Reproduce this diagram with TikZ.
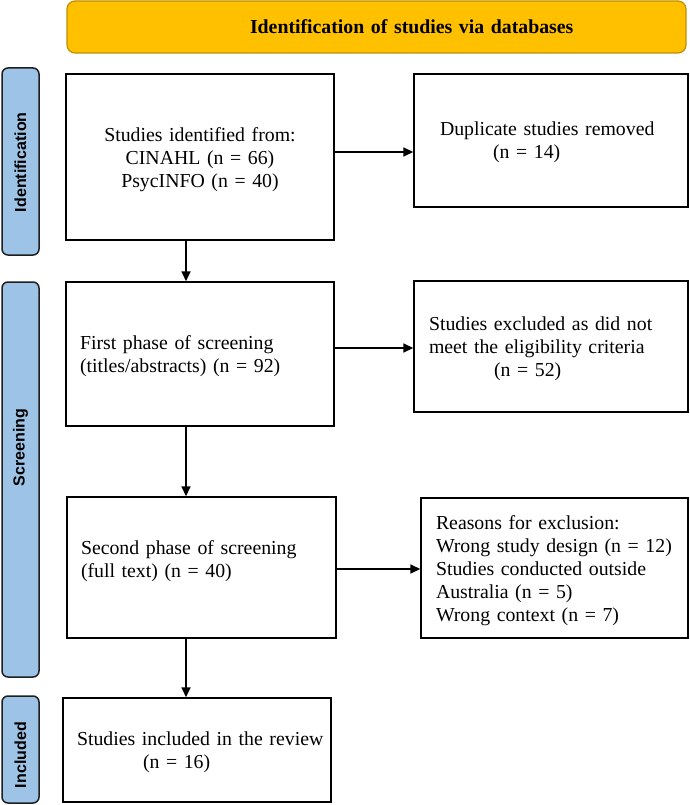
\documentclass[tikz,border=0pt]{standalone}
\usepackage{fontspec}
\setmainfont{Liberation Serif}
\newfontfamily\labelsans{Liberation Sans}
\usetikzlibrary{arrows.meta}
\definecolor{gold}{HTML}{FFC000}
\definecolor{golddark}{HTML}{BF9000}
\definecolor{lblue}{HTML}{9DC3E6}
\definecolor{lborder}{HTML}{1F1F1F}
\begin{document}
\begin{tikzpicture}[x=1pt,y=-1pt,
  box/.style={draw=black, line width=1.4pt, fill=white,
    font=\fontsize{19.8}{23}\selectfont, text height=14pt, align=left},
  phase/.style={draw=lborder, fill=lblue, line width=1.5pt, rounded corners=6pt,
    rotate=90, font=\labelsans\bfseries\fontsize{16}{19}\selectfont,
    inner xsep=0pt, inner ysep=0pt, align=left, minimum height=37pt},
  arr/.style={line width=1.6pt, -{Triangle[length=10pt,width=9pt]}}]
\useasboundingbox (0,0) rectangle (690,805);

% title banner
\node[draw=golddark, fill=gold, line width=1.2pt, rounded corners=8pt,
  font=\bfseries\fontsize{19.8}{23}\selectfont, text width=619pt, inner xsep=0pt,
  align=left, minimum height=52pt, text height=14pt, text depth=0pt]
  (title) at (376.5,27) {\hspace*{183pt}Identification of studies via databases};

% phase labels
\node[phase, text width=187pt] (pid) at (20.5,161.5) {\hspace*{43pt}Identification};
\node[phase, text width=395pt] (pscr) at (20.5,479.5) {\hspace*{191pt}Screening};
\node[phase, text width=107pt] (pinc) at (20.5,749.5) {\hspace*{15pt}Included};

% boxes
\node[box, align=center, text width=240pt, inner xsep=14pt, minimum height=166pt, text depth=44pt]
  (ident) at (200,157) {Studies identified from:\\CINAHL (n = 66)\\PsycINFO (n = 40)};
\node[box, text width=222pt, inner xsep=26pt, minimum height=133pt, text depth=23pt]
  (dup) at (551,140.5) {Duplicate studies removed\\\hspace*{53pt}(n = 14)};
\node[box, text width=240pt, inner xsep=14pt, minimum height=144pt, text depth=24pt]
  (first) at (200,354) {First phase of screening\\(titles/abstracts) (n = 92)};
\node[box, text width=244pt, inner xsep=15pt, minimum height=131pt, text depth=47pt]
  (excl) at (551,346.5) {Studies excluded as did not\\meet the eligibility criteria\\\hspace*{65pt}(n = 52)};
\node[box, text width=241pt, inner xsep=14pt, minimum height=141pt, text depth=41pt]
  (second) at (201.5,567.5) {Second phase of screening\\(full text) (n = 40)};
\node[box, text width=237pt, inner xsep=15pt, minimum height=140pt, text depth=92pt]
  (reasons) at (554.5,568) {Reasons for exclusion:\\Wrong study design (n = 12)\\Studies conducted outside\\Australia (n = 5)\\Wrong context (n = 7)};
\node[box, text width=240pt, inner xsep=14pt, minimum height=104pt, text depth=24pt]
  (incl) at (197,750) {\mbox{Studies included in the review}\\\hspace*{66pt}(n = 16)};

% connectors
\draw[arr] ([xshift=-14pt]ident.south) -- ([xshift=-14pt]ident.south |- first.north);
\draw[arr] ([xshift=-14pt]first.south) -- ([xshift=-14pt]first.south |- second.north);
\draw[arr] ([xshift=-15.5pt]second.south) -- ([xshift=-15.5pt]second.south |- incl.north);
\draw[arr] ([yshift=5pt]ident.east) -- ([yshift=5pt]ident.east -| dup.west);
\draw[arr] ([yshift=6pt]first.east) -- ([yshift=6pt]first.east -| excl.west);
\draw[arr] ([yshift=-1.5pt]second.east) -- ([yshift=-1.5pt]second.east -| reasons.west);
\end{tikzpicture}
\end{document}
